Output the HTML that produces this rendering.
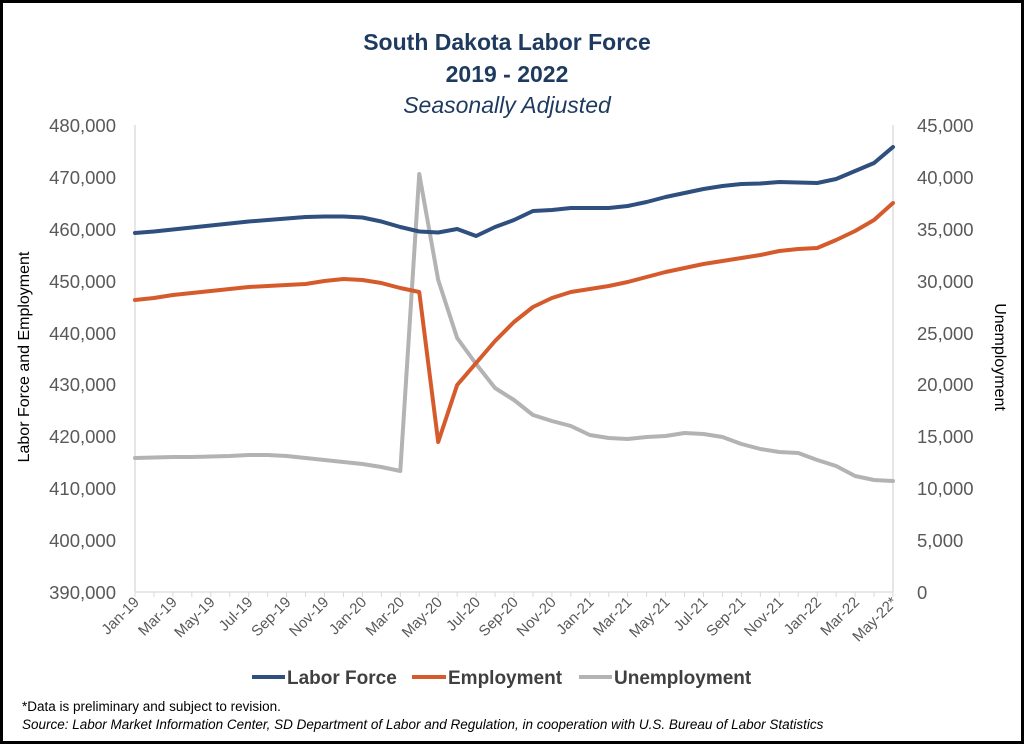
<!DOCTYPE html>
<html><head><meta charset="utf-8"><style>
html,body{margin:0;padding:0;background:#fff}
svg{display:block;font-family:"Liberation Sans",sans-serif}
</style></head><body>
<svg id="s" width="1024" height="744" viewBox="0 0 1024 744" xmlns="http://www.w3.org/2000/svg">
<rect x="1.5" y="1.5" width="1021" height="741" fill="#fff" stroke="#000" stroke-width="3"/>
<text x="507" y="50" text-anchor="middle" font-size="23" font-weight="bold" fill="#1f3a5f">South Dakota Labor Force</text>
<text x="507" y="82" text-anchor="middle" font-size="23" font-weight="bold" fill="#1f3a5f">2019 - 2022</text>
<text x="507" y="113" text-anchor="middle" font-size="23" font-style="italic" fill="#1f3a5f">Seasonally Adjusted</text>
<g font-size="18.5" fill="#595959" text-anchor="end">
<text x="116" y="132">480,000</text><text x="116" y="184">470,000</text><text x="116" y="236">460,000</text>
<text x="116" y="288">450,000</text><text x="116" y="340">440,000</text><text x="116" y="391">430,000</text>
<text x="116" y="443">420,000</text><text x="116" y="495">410,000</text><text x="116" y="547">400,000</text>
<text x="116" y="599">390,000</text>
</g>
<g font-size="18.5" fill="#595959" text-anchor="start">
<text x="917" y="132">45,000</text><text x="917" y="184">40,000</text><text x="917" y="236">35,000</text>
<text x="917" y="288">30,000</text><text x="917" y="340">25,000</text><text x="917" y="391">20,000</text>
<text x="917" y="443">15,000</text><text x="917" y="495">10,000</text><text x="917" y="547">5,000</text>
<text x="917" y="599">0</text>
</g>
<text transform="translate(29,357) rotate(-90)" text-anchor="middle" font-size="16" fill="#000">Labor  Force and Employment</text>
<text transform="translate(995,357) rotate(90)" text-anchor="middle" font-size="16" fill="#000">Unemployment</text>
<line x1="135" y1="125" x2="135" y2="592" stroke="#d9d9d9" stroke-width="1.3"/>
<line x1="893" y1="125" x2="893" y2="592" stroke="#d9d9d9" stroke-width="1.3"/>
<line x1="135" y1="592" x2="893" y2="592" stroke="#d9d9d9" stroke-width="1.3"/>
<g id="ticks" stroke="#d9d9d9" stroke-width="1"></g>
<g id="xl" font-size="15" fill="#595959" text-anchor="end"></g>
<g id="lines" fill="none" stroke-width="4" stroke-linejoin="round" stroke-linecap="round"></g>
<g font-size="19" font-weight="bold" fill="#404040">
<line x1="252" y1="677" x2="285" y2="677" stroke="#2f4f7f" stroke-width="4"/><text x="287" y="684">Labor Force</text>
<line x1="412" y1="677" x2="446" y2="677" stroke="#d65b2c" stroke-width="4"/><text x="448" y="684">Employment</text>
<line x1="579" y1="677" x2="612" y2="677" stroke="#b3b3b3" stroke-width="4"/><text x="614" y="684">Unemployment</text>
</g>
<text x="22" y="711" font-size="13.5" fill="#000">*Data is preliminary and subject to revision.</text>
<text x="22" y="729" font-size="13.5" font-style="italic" fill="#000">Source: Labor Market Information Center, SD Department of Labor and Regulation, in cooperation with U.S. Bureau of Labor Statistics</text>
</svg>
<script>
var NS="http://www.w3.org/2000/svg";
function X(i){return 135+i*18.95;}
var lf=[233,231.5,229.5,227.5,225.5,223.5,221.5,220,218.5,217,216.5,216.5,217.5,221.5,227,231.5,232.5,229,236,227,220,211,210,208,208,208,206,202,197,193,189,186,184,183.5,182,182.5,183,179,171,163,147];
var em=[300,298,295,293,291,289,287,286,285,284,281,279,280,283,288,292,442,385,363,341,322,307,298,292,289,286,282,277,272,268,264,261,258,255,251,249,248,240,231,220,203];
var un=[458,457.5,457,457,456.5,456,455,455,456,458,460,462,464,467,471,174,280,338,364,388,400,415,421,426,435,438,439,437,436,433,434,437,444,449,452,453,460,466,476,480,481];
var ln=document.getElementById("lines");
[[un,"#b3b3b3"],[em,"#d65b2c"],[lf,"#2f4f7f"]].forEach(function(p){
 var pl=document.createElementNS(NS,"polyline");
 pl.setAttribute("points",p[0].map(function(y,i){return X(i)+","+y}).join(" "));
 pl.setAttribute("stroke",p[1]);ln.appendChild(pl);});
var tk=document.getElementById("ticks");
for(var i=0;i<=40;i++){var l=document.createElementNS(NS,"line");l.setAttribute("x1",X(i));l.setAttribute("x2",X(i));l.setAttribute("y1",592);l.setAttribute("y2",597);tk.appendChild(l);}
var mo=["Jan","Mar","May","Jul","Sep","Nov"];var xl=document.getElementById("xl");
for(var i=0;i<=40;i+=2){var m=mo[(i%12)/2],yr=19+Math.floor(i/12);var t=document.createElementNS(NS,"text");
 var x=X(i)+5,y=603;t.setAttribute("transform","translate("+x+","+y+") rotate(-45)");
 t.textContent=m+"-"+yr+(i==40?"*":"");xl.appendChild(t);}
</script>
</body></html>
